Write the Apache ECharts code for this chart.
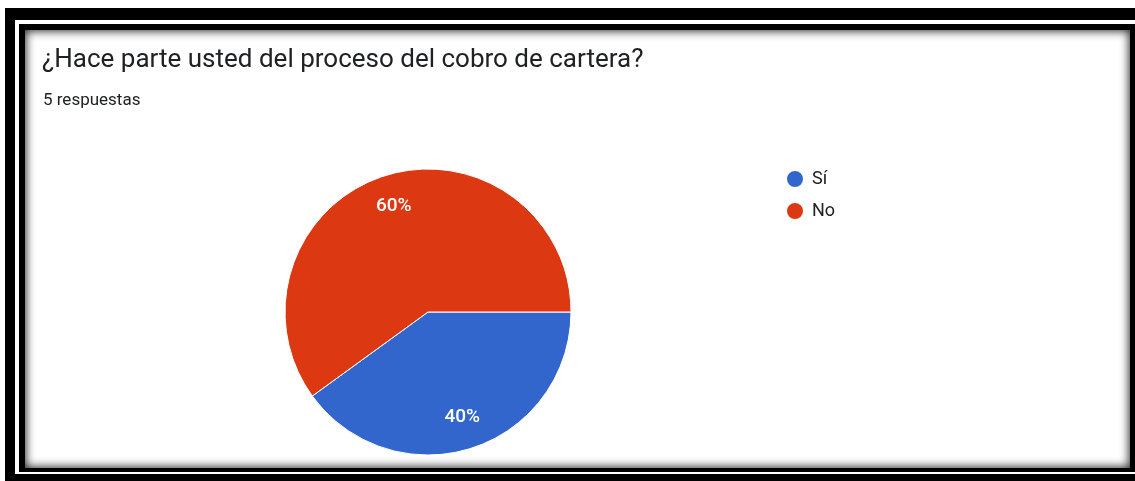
<!DOCTYPE html>
<html>
<head>
<meta charset="utf-8">
<script src="https://cdn.jsdelivr.net/npm/echarts@6/dist/echarts.min.js"></script>
<style>
html,body{margin:0;padding:0;width:1135px;height:481px;overflow:hidden;background:#fff;}
.f{position:absolute;}
#chart{position:absolute;left:0;top:0;width:1135px;height:481px;}
</style>
</head>
<body>
<div class="f" style="left:5px;top:8px;width:1300px;height:600px;background:#000;"></div>
<div class="f" style="left:15px;top:20px;width:1300px;height:454px;background:#fff;"></div>
<div class="f" style="left:19px;top:24px;width:1300px;height:448px;background:#000;"></div>
<div class="f" style="left:25px;top:30px;width:1105px;height:438px;background:#fff;box-shadow:inset 0 0 10px 1px rgba(0,0,0,0.85);"></div>
<div id="chart"></div>
<script>
const titleText = '¿Hace parte usted del proceso del cobro de cartera?';
const subText = '5 respuestas';
const categories = ['Sí', 'No'];
const values = [2, 3];
const colors = ['#3366cc', '#dc3912'];

const chart = echarts.init(document.getElementById('chart'), null, {renderer: 'canvas'});
const data = categories.map((c, i) => ({name: c, value: values[i], itemStyle: {color: colors[i]}}));
const labelData = categories.map((c, i) => ({name: c, value: values[i]}));

chart.setOption({
  backgroundColor: 'transparent',
  animation: false,
  title: [
    {text: titleText, left: 42, top: 47, padding: 0,
     textStyle: {fontFamily: 'Roboto', fontSize: 26, fontWeight: 'normal', color: '#202124'}},
    {text: subText, left: 43, top: 92, padding: 0,
     textStyle: {fontFamily: 'Roboto', fontSize: 17, fontWeight: 'normal', color: '#202124'}}
  ],
  legend: {
    orient: 'vertical', left: 785, top: 169, icon: 'circle',
    itemWidth: 18, itemHeight: 18, itemGap: 12, padding: 0,
    data: categories.map((c, i) => ({name: c, itemStyle: {color: colors[i]}})),
    textStyle: {fontFamily: 'Roboto', fontSize: 18, color: '#222', padding: [0, 0, 0, 3]}
  },
  series: [
    {
      type: 'pie', center: [428, 312], radius: [0, 143], startAngle: 0, clockwise: true,
      data: data,
      label: {show: false}, labelLine: {show: false},
      itemStyle: {borderColor: '#fff', borderWidth: 1},
      emphasis: {disabled: true}
    },
    {
      type: 'pie', center: [428, 312], radius: [72, 144], startAngle: 0, clockwise: true,
      data: labelData, silent: true,
      itemStyle: {color: 'rgba(0,0,0,0)', borderWidth: 0},
      label: {show: true, position: 'inside', formatter: p => Math.round(p.percent) + '%',
        fontFamily: 'Roboto', fontSize: 19, fontWeight: 500, color: '#fff'},
      labelLine: {show: false},
      emphasis: {disabled: true}
    }
  ]
});
</script>
</body>
</html>
